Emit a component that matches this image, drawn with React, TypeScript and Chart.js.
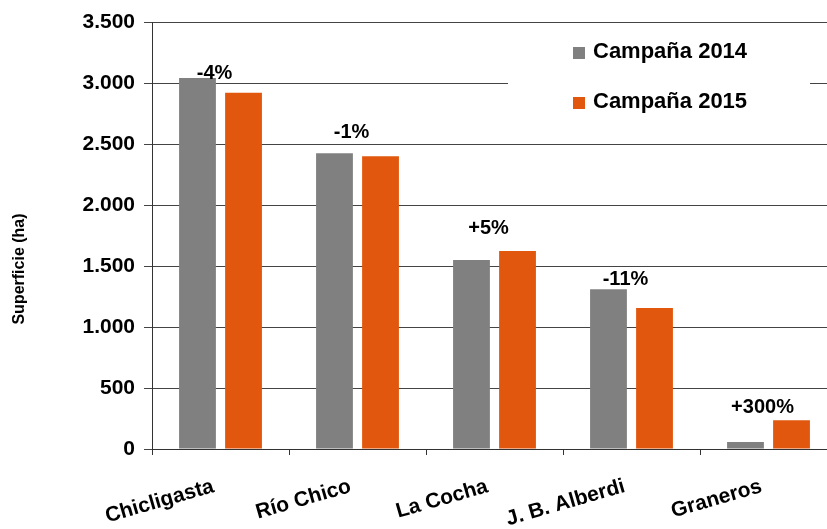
import React, { useEffect, useRef } from "react";
import { Chart, registerables } from "chart.js";

Chart.register(...registerables);

const categories = ["Chicligasta", "Río Chico", "La Cocha", "J. B. Alberdi", "Graneros"];
const campana2014 = [3040, 2425, 1550, 1310, 58];
const campana2015 = [2920, 2400, 1622, 1155, 235];
const pctLabels = ["-4%", "-1%", "+5%", "-11%", "+300%"];
const pctLabelValues = [3082, 2598, 1811, 1393, 344];
const seriesNames = ["Campaña 2014", "Campaña 2015"];
const yTickValues = [0, 500, 1000, 1500, 2000, 2500, 3000, 3500];

const GRAY = "#808080";
const ORANGE = "#E2570E";
const FONT = "'Liberation Sans', Arial, sans-serif";

function fmt(v: number): string {
  if (v >= 1000) {
    const t = Math.floor(v / 1000);
    const r = v % 1000;
    return `${t}.${String(r).padStart(3, "0")}`;
  }
  return String(v);
}

const overlayPlugin = {
  id: "overlay",
  afterDatasetsDraw(chart: any) {
    const ctx = chart.ctx;
    const xs = chart.scales.x;
    const ys = chart.scales.y;
    ctx.save();
    // percentage labels
    ctx.fillStyle = "#000";
    ctx.font = `bold 20px ${FONT}`;
    ctx.textAlign = "center";
    ctx.textBaseline = "middle";
    pctLabels.forEach((t, i) => {
      const x = xs.getPixelForValue(i) - 6;
      const y = ys.getPixelForValue(pctLabelValues[i]);
      ctx.fillText(t, x, y);
    });
    // legend
    ctx.fillStyle = "#fff";
    ctx.fillRect(508, 30, 302, 105);
    const colors = [GRAY, ORANGE];
    const rows = [52, 102];
    ctx.font = `bold 22px ${FONT}`;
    ctx.textAlign = "left";
    seriesNames.forEach((n, i) => {
      ctx.fillStyle = colors[i];
      ctx.fillRect(573, rows[i] - 5, 12, 12);
      ctx.fillStyle = "#000";
      ctx.fillText(n, 593, rows[i]);
    });
    // y title
    ctx.translate(20, 269);
    ctx.rotate(-Math.PI / 2);
    ctx.textAlign = "center";
    ctx.font = `bold 16px ${FONT}`;
    ctx.fillText("Superficie (ha)", 0, 0);
    ctx.restore();
  },
};

export default function App() {
  const ref = useRef<HTMLCanvasElement | null>(null);
  useEffect(() => {
    if (!ref.current) return;
    const chart = new Chart(ref.current, {
      type: "bar",
      data: {
        labels: categories,
        datasets: [
          { label: seriesNames[0], data: campana2014, backgroundColor: GRAY },
          { label: seriesNames[1], data: campana2015, backgroundColor: ORANGE },
        ],
      },
      options: {
        responsive: false,
        animation: false,
        devicePixelRatio: 1,
        layout: { padding: { top: 22, left: 0, right: 0, bottom: 0 } },
        datasets: { bar: { categoryPercentage: 0.672, barPercentage: 0.8 } },
        plugins: { legend: { display: false }, tooltip: { enabled: false } },
        scales: {
          x: {
            grid: { drawOnChartArea: false, drawTicks: true, tickLength: 6, color: "#333", offset: true },
            border: { color: "#333", width: 1 },
            ticks: {
              color: "#000",
              font: { family: FONT, size: 21, weight: "bold" },
              minRotation: 16,
              maxRotation: 16,
              padding: 19,
              labelOffset: -7,
              autoSkip: false,
            },
            afterFit(scale: any) {
              scale.height = 80;
            },
          },
          y: {
            min: 0,
            max: 3500,
            afterBuildTicks(scale: any) {
              scale.ticks = yTickValues.map((v) => ({ value: v }));
            },
            grid: { color: "#444", lineWidth: 1, tickLength: 8 },
            border: { color: "#333", width: 1 },
            ticks: {
              color: "#000",
              font: { family: FONT, size: 21, weight: "bold" },
              padding: 9,
              callback: (v: any) => fmt(Number(v)),
            },
            afterFit(scale: any) {
              scale.width = 152;
            },
          },
        },
      },
      plugins: [overlayPlugin],
    });
    return () => chart.destroy();
  }, []);
  return (
    <div style={{ position: "fixed", left: 0, top: 0, width: 827, height: 529, overflow: "hidden", background: "#fff" }}>
      <canvas ref={ref} width={837} height={529} style={{ display: "block" }} />
    </div>
  );
}
